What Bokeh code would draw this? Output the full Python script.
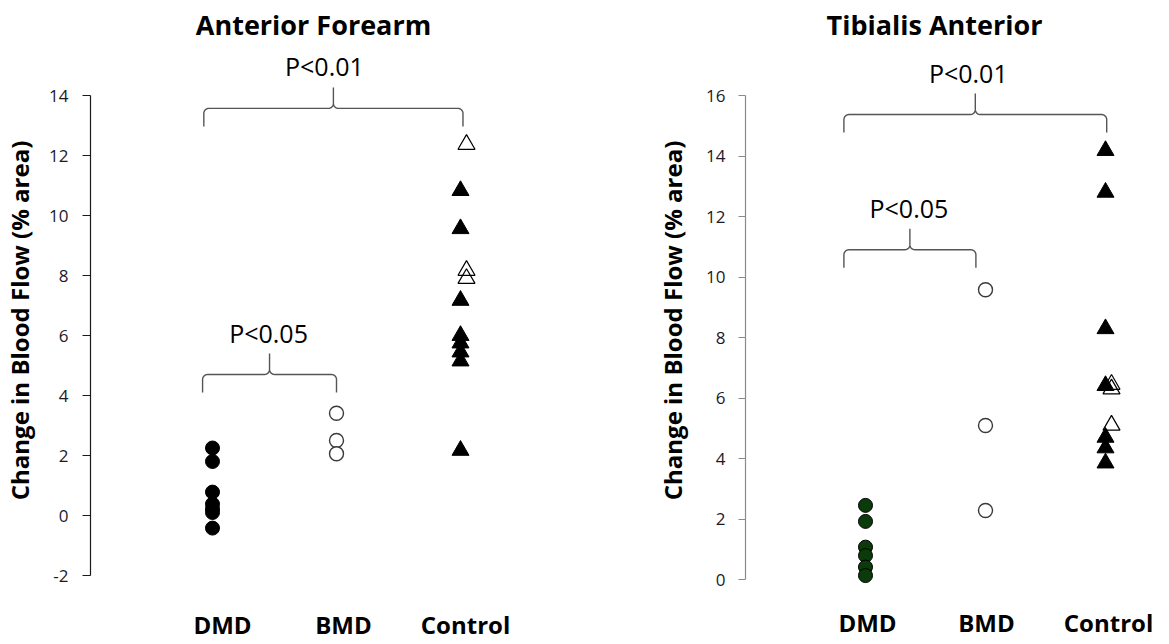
import numpy as np
from bokeh.plotting import figure
from bokeh.layouts import row
from bokeh.models import FixedTicker, Range1d
from bokeh.core.properties import value
from bokeh.embed import file_html
from bokeh.resources import INLINE

FONT = "Open Sans"

# ---------------- data ----------------
categories = ["DMD", "BMD", "Control"]
category_pos = [1, 2, 3]

# Anterior Forearm
af_title = "Anterior Forearm"
af_dmd = [2.25, 1.8, 0.78, 0.38, 0.22, 0.1, -0.42]
af_bmd = [3.41, 2.5, 2.06]
af_ctrl_filled = [10.83, 9.56, 7.17, 6.0, 5.75, 5.45, 5.15, 2.17]
af_ctrl_open = [12.37, 8.17, 7.9]
af_ticks = [-2, 0, 2, 4, 6, 8, 10, 12, 14]
af_tick_labels = ["-2", "0", "2", "4", "6", "8", "10", "12", "14"]
af_br_x0 = [0.93, 0.92]
af_br_x1 = [3.02, 2.0]
af_br_y = [13.57, 4.7]
af_br_text = ["P<0.01", "P<0.05"]

# Tibialis Anterior
ta_title = "Tibialis Anterior"
ta_dmd = [2.45, 1.92, 1.07, 0.79, 0.41, 0.13]
ta_bmd = [9.58, 5.09, 2.28]
ta_ctrl_filled = [14.18, 12.8, 8.29, 6.41, 4.7, 4.35, 3.85]
ta_ctrl_open = [6.45, 6.3, 5.1]
ta_ticks = [0, 2, 4, 6, 8, 10, 12, 14, 16]
ta_tick_labels = ["0", "2", "4", "6", "8", "10", "12", "14", "16"]
ta_br_x0 = [0.82, 0.82]
ta_br_x1 = [3.01, 1.92]
ta_br_y = [15.37, 10.9]
ta_br_text = ["P<0.01", "P<0.05"]

y_label = "Change in Blood Flow (% area)"

# ---------------- layout ----------------
FIG_H = 640
FRAME_TOP, FRAME_BOTTOM = 0, 640  # screen px
TEXT_SHIFT = 0.38  # em, baseline correction


def make_panel(fig_left, fig_width, frame_left, frame_right, cat1_px, x_ppu,
               y_ref, y_ref_px, y_ppu, ticks, tick_labels, bounds,
               title, title_cx, title_base,
               dmd, bmd, ctrl_f, ctrl_o, dmd_fill,
               br_x0, br_x1, br_y, br_text, br_text_dx,
               cat_dx, cat_base, axis_color, tick_standoff, tick_out, label_standoff):
    X = lambda px: 1 + (px - cat1_px) / x_ppu
    Y = lambda py: y_ref + (y_ref_px - py) / y_ppu
    PX = lambda x: cat1_px + (x - 1) * x_ppu
    PY = lambda y: y_ref_px - (y - y_ref) * y_ppu

    p = figure(width=fig_width, height=FIG_H, output_backend="svg",
               toolbar_location=None, x_axis_location=None,
               x_range=Range1d(X(frame_left), X(frame_right)),
               y_range=Range1d(Y(FRAME_BOTTOM), Y(FRAME_TOP)),
               min_border_left=frame_left - fig_left,
               min_border_right=fig_left + fig_width - frame_right,
               min_border_top=0, min_border_bottom=0)
    p.outline_line_color = None
    p.xgrid.visible = False
    p.ygrid.visible = False
    p.background_fill_color = "white"
    p.border_fill_color = "white"

    ax = p.yaxis[0]
    ax.ticker = FixedTicker(ticks=ticks)
    ax.major_label_overrides = {t: l for t, l in zip(ticks, tick_labels)}
    ax.bounds = bounds
    ax.minor_tick_line_color = None
    ax.major_tick_in = 0
    ax.major_tick_out = tick_out
    ax.axis_line_color = axis_color
    ax.major_tick_line_color = axis_color
    ax.axis_line_width = 1.2
    ax.major_tick_line_width = 1.2
    ax.major_label_text_font = FONT
    ax.major_label_text_font_size = "17px"
    ax.major_label_text_color = "#1a1a2a"
    ax.major_label_standoff = tick_standoff
    ax.axis_label = y_label
    ax.axis_label_text_font = FONT
    ax.axis_label_text_font_style = "bold"
    ax.axis_label_text_font_size = "24px"
    ax.axis_label_text_color = "black"
    ax.axis_label_standoff = label_standoff

    def txt(xpx, base_px, s, size, bold):
        p.text(x=[X(v) for v in xpx], y=[Y(base_px - TEXT_SHIFT * size)] * len(s), text=s,
               text_font=value(FONT), text_font_style="bold" if bold else "normal",
               text_font_size=f"{size}px", text_align="center",
               text_baseline="alphabetic", text_color="black")

    # title
    txt([title_cx], title_base, [title], 27, True)

    # category labels
    txt([PX(c) + d for c, d in zip(category_pos, cat_dx)], cat_base, categories, 24, True)

    # brackets
    arm, tip, r = 18, 21, 5
    for x0, x1, yb, label, tdx in zip(br_x0, br_x1, br_y, br_text, br_text_dx):
        a, b, yy = PX(x0), PX(x1), PY(yb)
        m = (a + b) / 2
        pts = [(a, yy + arm), (a, yy + r)]
        t = np.linspace(np.pi, 1.5 * np.pi, 8)
        pts += list(zip(a + r + r * np.cos(t), yy + r + r * np.sin(t)))
        pts += [(m - r, yy)]
        t = np.linspace(0.5 * np.pi, 0, 8)
        pts += list(zip(m - r + r * np.cos(t), yy - r + r * np.sin(t)))
        pts += [(m, yy - tip), (m, yy - r)]
        t = np.linspace(np.pi, 0.5 * np.pi, 8)
        pts += list(zip(m + r + r * np.cos(t), yy - r + r * np.sin(t)))
        pts += [(b - r, yy)]
        t = np.linspace(1.5 * np.pi, 2 * np.pi, 8)
        pts += list(zip(b - r + r * np.cos(t), yy + r + r * np.sin(t)))
        pts += [(b, yy + arm)]
        p.line(x=[X(q[0]) for q in pts], y=[Y(q[1]) for q in pts],
               line_color="#555555", line_width=1.4)
        txt([m + tdx], yy - tip - 11.5, [label], 25, False)

    # markers
    dodge = 6 / x_ppu
    p.scatter(x=[category_pos[0]] * len(dmd), y=dmd, marker="circle", size=14,
              fill_color=dmd_fill, line_color="black", line_width=1)
    p.scatter(x=[category_pos[1]] * len(bmd), y=bmd, marker="circle", size=14,
              fill_color="white", line_color="#3a3a3a", line_width=1.4)
    p.scatter(x=[category_pos[2]] * len(ctrl_f), y=ctrl_f, marker="triangle", size=17,
              fill_color="black", line_color="black", line_width=1)
    p.scatter(x=[category_pos[2] + dodge] * len(ctrl_o), y=ctrl_o, marker="triangle", size=17,
              fill_color="white", fill_alpha=0.0, line_color="black", line_width=1.2)
    return p


left = make_panel(fig_left=0, fig_width=608, frame_left=90, frame_right=600,
                  cat1_px=212, x_ppu=124, y_ref=-2, y_ref_px=575, y_ppu=30,
                  ticks=af_ticks, tick_labels=af_tick_labels, bounds=(-2, 14),
                  title=af_title, title_cx=313, title_base=34,
                  dmd=af_dmd, bmd=af_bmd, ctrl_f=af_ctrl_filled, ctrl_o=af_ctrl_open,
                  dmd_fill="black",
                  br_x0=af_br_x0, br_x1=af_br_x1, br_y=af_br_y, br_text=af_br_text,
                  br_text_dx=[-9, -1], cat_dx=[10, 7, 5], cat_base=633,
                  axis_color="#1a1a1a", tick_standoff=14, tick_out=8, label_standoff=10)

right = make_panel(fig_left=608, fig_width=553, frame_left=745, frame_right=1161,
                   cat1_px=865, x_ppu=120, y_ref=0, y_ref_px=579, y_ppu=30.25,
                   ticks=ta_ticks, tick_labels=ta_tick_labels, bounds=(0, 16),
                   title=ta_title, title_cx=934, title_base=34,
                   dmd=ta_dmd, bmd=ta_bmd, ctrl_f=ta_ctrl_filled, ctrl_o=ta_ctrl_open,
                   dmd_fill="#0b3b0b",
                   br_x0=ta_br_x0, br_x1=ta_br_x1, br_y=ta_br_y, br_text=ta_br_text,
                   br_text_dx=[-7, -1], cat_dx=[2, 1, 3], cat_base=631,
                   axis_color="#8a8a8a", tick_standoff=13, tick_out=7, label_standoff=14)

layout = row(left, right)
open("out.html", "w").write(file_html(layout, INLINE))
